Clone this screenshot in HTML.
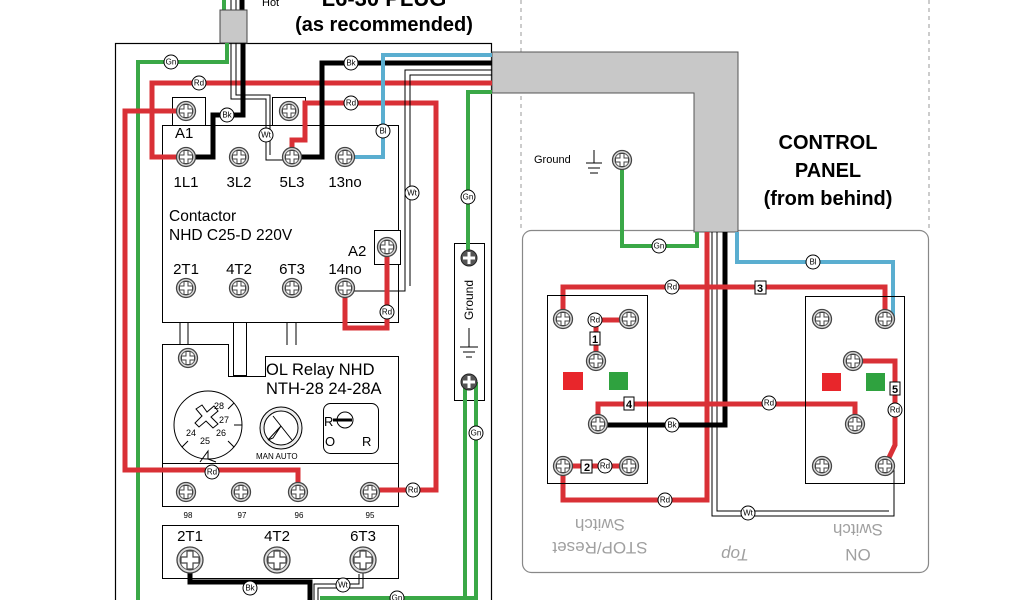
<!DOCTYPE html>
<html><head><meta charset="utf-8"><style>
html,body{margin:0;padding:0;background:#fff;}
svg{display:block;font-family:"Liberation Sans",Arial,sans-serif;}
</style></head><body>
<svg width="1024" height="600" viewBox="0 0 1024 600" xmlns="http://www.w3.org/2000/svg">
<defs>
<g id="scr"><circle r="9.5" fill="#ddd" stroke="#444" stroke-width="1.3"/><circle r="7" fill="#fff" stroke="#555" stroke-width="1"/><path d="M-2,-6.5 H2 V-2 H6.5 V2 H2 V6.5 H-2 V2 H-6.5 V-2 H-2 Z" fill="#fff" stroke="#444" stroke-width="1"/></g>
<g id="scrB"><circle r="13" fill="#ddd" stroke="#444" stroke-width="1.3"/><circle r="10" fill="#fff" stroke="#555" stroke-width="1"/><path d="M-3,-9 H3 V-3 H9 V3 H3 V9 H-3 V3 H-9 V-3 H-3 Z" fill="#fff" stroke="#444" stroke-width="1.2"/></g>
<g id="scrD"><circle r="8" fill="#555" stroke="#222" stroke-width="1"/><path d="M-1.5,-6 H1.5 V-1.5 H6 V1.5 H1.5 V6 H-1.5 V1.5 H-6 V-1.5 H-1.5 Z" fill="#fff"/></g>
</defs>
<style>
.lb{font-size:8px;text-anchor:middle;dominant-baseline:central;fill:#000}
.t{font-size:15px;fill:#000}
.w{fill:none;stroke-linejoin:miter}
.r{stroke:#d93036;stroke-width:5}
.k{stroke:#000;stroke-width:5}
.g{stroke:#3aa847;stroke-width:4}
.b{stroke:#5aaed0;stroke-width:4}
</style>
<line x1="521" y1="0" x2="521" y2="230" stroke="#999" stroke-dasharray="4,4"/>
<line x1="929" y1="0" x2="929" y2="230" stroke="#999" stroke-dasharray="4,4"/>
<text x="262" y="6" font-size="11">Hot</text>
<text x="384" y="6" font-size="22" font-weight="bold" text-anchor="middle">L6-30 PLUG</text>
<text x="384" y="31" font-size="20" font-weight="bold" text-anchor="middle">(as recommended)</text>
<text x="828" y="149" font-size="20" font-weight="bold" text-anchor="middle">CONTROL</text>
<text x="828" y="177" font-size="20" font-weight="bold" text-anchor="middle">PANEL</text>
<text x="828" y="205" font-size="20" font-weight="bold" text-anchor="middle">(from behind)</text>

<rect x="115.5" y="43.5" width="376" height="570" fill="none" stroke="#000" stroke-width="1.2"/>
<path class="w g" d="M224,0 V10"/><path d="M231,0V10M236,0V10" stroke="#000" stroke-width="1"/><path class="w k" d="M242,0V10"/>
<rect x="220" y="10" width="27" height="33" fill="#c8c8c8" stroke="#444"/>

<rect x="522.5" y="230.5" width="406" height="342" rx="9" fill="none" stroke="#888" stroke-width="1.2"/>
<path d="M492,52 H738 V232 H694 V93 H492 Z" fill="#c8c8c8" stroke="#555"/>

<rect x="172.5" y="97.5" width="33" height="28" fill="#fff" stroke="#000"/>
<rect x="272.5" y="97.5" width="33" height="28" fill="#fff" stroke="#000"/>
<rect x="162.5" y="125.5" width="236" height="197" fill="#fff" stroke="#000"/>
<rect x="374.5" y="230.5" width="26" height="34" fill="#fff" stroke="#000"/>
<path d="M180,322V345M188,322V345M287,322V345M296,322V345" stroke="#000"/>
<rect x="233.5" y="322.5" width="13" height="53" fill="#fff" stroke="#000"/>
<path d="M162.5,344.5 H228.5 V376.5 H265.5 V356.5 H398.5 V463.5 H162.5 Z" fill="#fff" stroke="#000"/>
<rect x="162.5" y="463.5" width="236" height="43" fill="#fff" stroke="#000"/>
<rect x="162.5" y="525.5" width="236" height="53" fill="#fff" stroke="#000"/>
<rect x="454.5" y="243.5" width="30" height="157" fill="#fff" stroke="#000"/>

<path class="w g" d="M227,43 V62 H138 V600"/>
<path class="w r" d="M492,83 H152 V157 H186"/>
<path class="w r" d="M186,111 H125 V470 H298 V492"/>
<path class="w k" d="M186,157 H213 V115 H243 V43"/>
<path d="M231,43 V99 H266 V160 H292 M236,43 V95 H270 V155" fill="none" stroke="#000" stroke-width="1"/>
<path class="w r" d="M292,157 V140 H305 V103 H436 V490 H370"/>
<path class="w k" d="M292,157 H322 V63 H492"/>
<path class="w b" d="M345,157 H383 V55 H492"/>
<path d="M492,70 H405 V291 H345 M492,75 H410 V286" fill="none" stroke="#000" stroke-width="1"/>
<path class="w r" d="M387,247 V328 H345 V288"/>
<path class="w g" d="M492,92 H468 V258"/>
<path class="w g" d="M465,382 V600 M476,382 V598 H322 V600"/>
<path class="w k" d="M190,560 V582 H310 V600"/>
<path d="M363,560 V588 H318 V600 M359,574 V584 H314 V600" fill="none" stroke="#000" stroke-width="1"/>

<use href="#scr" x="186" y="111"/><use href="#scr" x="289" y="111"/>
<use href="#scr" x="186" y="157"/><use href="#scr" x="239" y="157"/><use href="#scr" x="292" y="157"/><use href="#scr" x="345" y="157"/>
<use href="#scr" x="186" y="288"/><use href="#scr" x="239" y="288"/><use href="#scr" x="292" y="288"/><use href="#scr" x="345" y="288"/>
<use href="#scr" x="387" y="247"/>
<text x="175" y="138" class="t">A1</text>
<text x="186" y="187" class="t" text-anchor="middle">1L1</text><text x="239" y="187" class="t" text-anchor="middle">3L2</text><text x="292" y="187" class="t" text-anchor="middle">5L3</text><text x="345" y="187" class="t" text-anchor="middle">13no</text>
<text x="169" y="221" font-size="15.5">Contactor</text>
<text x="169" y="240" font-size="15.5">NHD C25-D 220V</text>
<text x="348" y="256" class="t">A2</text>
<text x="186" y="274" class="t" text-anchor="middle">2T1</text><text x="239" y="274" class="t" text-anchor="middle">4T2</text><text x="292" y="274" class="t" text-anchor="middle">6T3</text><text x="345" y="274" class="t" text-anchor="middle">14no</text>

<use href="#scr" x="188" y="358"/>
<text x="266" y="375" font-size="16.5">OL Relay NHD</text>
<text x="266" y="394" font-size="16.5">NTH-28 24-28A</text>
<circle cx="208" cy="425" r="34" fill="#fff" stroke="#000"/>
<path d="M234,403 L228,409 M242,425 H234 M234,447 L228,441 M182,447 L188,441 M208,459 V451 L200,462 M208,459 L216,462" stroke="#000" fill="none"/>
<path d="M196,409 L202,405 L207,412 L214,406 L218,411 L211,417 L218,424 L213,428 L206,421 L199,427 L195,423 L202,416 Z" fill="#fff" stroke="#000"/>
<text x="214" y="409" font-size="9">28</text><text x="219" y="423" font-size="9">27</text><text x="216" y="436" font-size="9">26</text><text x="186" y="436" font-size="9">24</text><text x="200" y="444" font-size="9">25</text>
<circle cx="281" cy="428" r="21" fill="#eee" stroke="#000"/><circle cx="281" cy="428" r="17" fill="#fff" stroke="#000"/>
<path d="M273,416 L292,440 M268,440 L281,426 L273,438 Z" stroke="#000" fill="none"/>
<text x="256" y="459" font-size="8">MAN AUTO</text>
<rect x="323.5" y="403.5" width="55" height="50" rx="7" fill="#fff" stroke="#000"/>
<circle cx="345" cy="420" r="8" fill="#fff" stroke="#000"/><path d="M333,420 H352" stroke="#000" stroke-width="3"/>
<text x="324" y="426" font-size="13">R</text><text x="325" y="446" font-size="13">O</text><text x="362" y="446" font-size="13">R</text>
<use href="#scr" x="186" y="492"/><use href="#scr" x="241" y="492"/><use href="#scr" x="298" y="492"/><use href="#scr" x="370" y="492"/>
<text x="188" y="518" font-size="8" text-anchor="middle">98</text><text x="242" y="518" font-size="8" text-anchor="middle">97</text><text x="299" y="518" font-size="8" text-anchor="middle">96</text><text x="370" y="518" font-size="8" text-anchor="middle">95</text>
<text x="190" y="541" class="t" text-anchor="middle">2T1</text><text x="277" y="541" class="t" text-anchor="middle">4T2</text><text x="363" y="541" class="t" text-anchor="middle">6T3</text>
<use href="#scrB" x="190" y="560"/><use href="#scrB" x="277" y="560"/><use href="#scrB" x="363" y="560"/>

<use href="#scrD" x="469" y="258"/><use href="#scrD" x="469" y="382"/>
<text transform="translate(473,300) rotate(-90)" font-size="12" text-anchor="middle">Ground</text>
<path d="M469,328V347 M460,347H478 M463,352H475 M466,357H472" stroke="#000" fill="none"/>

<text x="534" y="163" font-size="11">Ground</text>
<path d="M594,150V163 M586,163H602 M588,168H600 M590,173H598" stroke="#000" fill="none"/>
<path class="w g" d="M622,160 V246 H697 V232"/>
<use href="#scr" x="622" y="160"/>
<path class="w r" d="M563,466 V500 H707 V232"/>
<path d="M712,232 V516 H894 V466 M717,232 V511 H889" fill="none" stroke="#000" stroke-width="1"/>
<path class="w k" d="M725,232 V425 H598"/>
<path class="w b" d="M737,232 V262 H893 V318"/>
<path class="w r" d="M563,319 V287 H885 V319"/>
<path class="w r" d="M598,424 V404 H855 V424"/>
<path class="w r" d="M596,361 V320 H629"/>
<path class="w r" d="M563,466 H629"/>
<path class="w r" d="M853,361 H895 V445 L885,466"/>
<rect x="547.5" y="295.5" width="100" height="188" fill="none" stroke="#000"/>
<rect x="805.5" y="296.5" width="99" height="187" fill="none" stroke="#000"/>
<rect x="563" y="372" width="20" height="18" fill="#e8262b"/><rect x="609" y="372" width="19" height="18" fill="#2fa23f"/>
<rect x="822" y="373" width="19" height="18" fill="#e8262b"/><rect x="866" y="373" width="19" height="18" fill="#2fa23f"/>
<use href="#scr" x="563" y="319"/><use href="#scr" x="629" y="319"/><use href="#scr" x="596" y="361"/><use href="#scr" x="598" y="424"/><use href="#scr" x="563" y="466"/><use href="#scr" x="629" y="466"/>
<use href="#scr" x="822" y="319"/><use href="#scr" x="885" y="319"/><use href="#scr" x="853" y="361"/><use href="#scr" x="855" y="424"/><use href="#scr" x="822" y="466"/><use href="#scr" x="885" y="466"/>
<g font-size="11" font-weight="bold" text-anchor="middle">
<rect x="590" y="332" width="10" height="13" fill="#fff" stroke="#000"/><text x="595" y="343">1</text>
<rect x="581" y="460" width="11" height="13" fill="#fff" stroke="#000"/><text x="587" y="471">2</text>
<rect x="755" y="281" width="11" height="13" fill="#fff" stroke="#000"/><text x="760" y="292">3</text>
<rect x="624" y="397" width="10" height="13" fill="#fff" stroke="#000"/><text x="629" y="408">4</text>
<rect x="890" y="382" width="10" height="13" fill="#fff" stroke="#000"/><text x="895" y="393">5</text>
</g>
<g fill="#a0a0a0" font-size="17" text-anchor="middle">
<text transform="translate(600,519) rotate(180)">Switch</text>
<text transform="translate(600,542) rotate(180)">STOP/Reset</text>
<text transform="translate(735,549) rotate(180)" font-style="italic">Top</text>
<text transform="translate(858,524) rotate(180)">Switch</text>
<text transform="translate(858,549) rotate(180)">ON</text>
</g>

<g>
<g transform="translate(171,62)"><circle r="7" fill="#fff" stroke="#000"/><text class="lb">Gn</text></g>
<g transform="translate(199,83)"><circle r="7" fill="#fff" stroke="#000"/><text class="lb">Rd</text></g>
<g transform="translate(227,115)"><circle r="7" fill="#fff" stroke="#000"/><text class="lb">Bk</text></g>
<g transform="translate(266,135)"><circle r="7" fill="#fff" stroke="#000"/><text class="lb">Wt</text></g>
<g transform="translate(351,63)"><circle r="7" fill="#fff" stroke="#000"/><text class="lb">Bk</text></g>
<g transform="translate(351,103)"><circle r="7" fill="#fff" stroke="#000"/><text class="lb">Rd</text></g>
<g transform="translate(383,131)"><circle r="7" fill="#fff" stroke="#000"/><text class="lb">Bl</text></g>
<g transform="translate(412,193)"><circle r="7" fill="#fff" stroke="#000"/><text class="lb">Wt</text></g>
<g transform="translate(468,197)"><circle r="7" fill="#fff" stroke="#000"/><text class="lb">Gn</text></g>
<g transform="translate(387,312)"><circle r="7" fill="#fff" stroke="#000"/><text class="lb">Rd</text></g>
<g transform="translate(212,472)"><circle r="7" fill="#fff" stroke="#000"/><text class="lb">Rd</text></g>
<g transform="translate(413,490)"><circle r="7" fill="#fff" stroke="#000"/><text class="lb">Rd</text></g>
<g transform="translate(476,433)"><circle r="7" fill="#fff" stroke="#000"/><text class="lb">Gn</text></g>
<g transform="translate(250,588)"><circle r="7" fill="#fff" stroke="#000"/><text class="lb">Bk</text></g>
<g transform="translate(343,585)"><circle r="7" fill="#fff" stroke="#000"/><text class="lb">Wt</text></g>
<g transform="translate(397,598)"><circle r="7" fill="#fff" stroke="#000"/><text class="lb">Gn</text></g>
<g transform="translate(659,246)"><circle r="7" fill="#fff" stroke="#000"/><text class="lb">Gn</text></g>
<g transform="translate(813,262)"><circle r="7" fill="#fff" stroke="#000"/><text class="lb">Bl</text></g>
<g transform="translate(672,287)"><circle r="7" fill="#fff" stroke="#000"/><text class="lb">Rd</text></g>
<g transform="translate(595,320)"><circle r="7" fill="#fff" stroke="#000"/><text class="lb">Rd</text></g>
<g transform="translate(769,403)"><circle r="7" fill="#fff" stroke="#000"/><text class="lb">Rd</text></g>
<g transform="translate(672,425)"><circle r="7" fill="#fff" stroke="#000"/><text class="lb">Bk</text></g>
<g transform="translate(605,466)"><circle r="7" fill="#fff" stroke="#000"/><text class="lb">Rd</text></g>
<g transform="translate(665,500)"><circle r="7" fill="#fff" stroke="#000"/><text class="lb">Rd</text></g>
<g transform="translate(748,513)"><circle r="7" fill="#fff" stroke="#000"/><text class="lb">Wt</text></g>
<g transform="translate(895,410)"><circle r="7" fill="#fff" stroke="#000"/><text class="lb">Rd</text></g>
</g>
</svg>
</body></html>
